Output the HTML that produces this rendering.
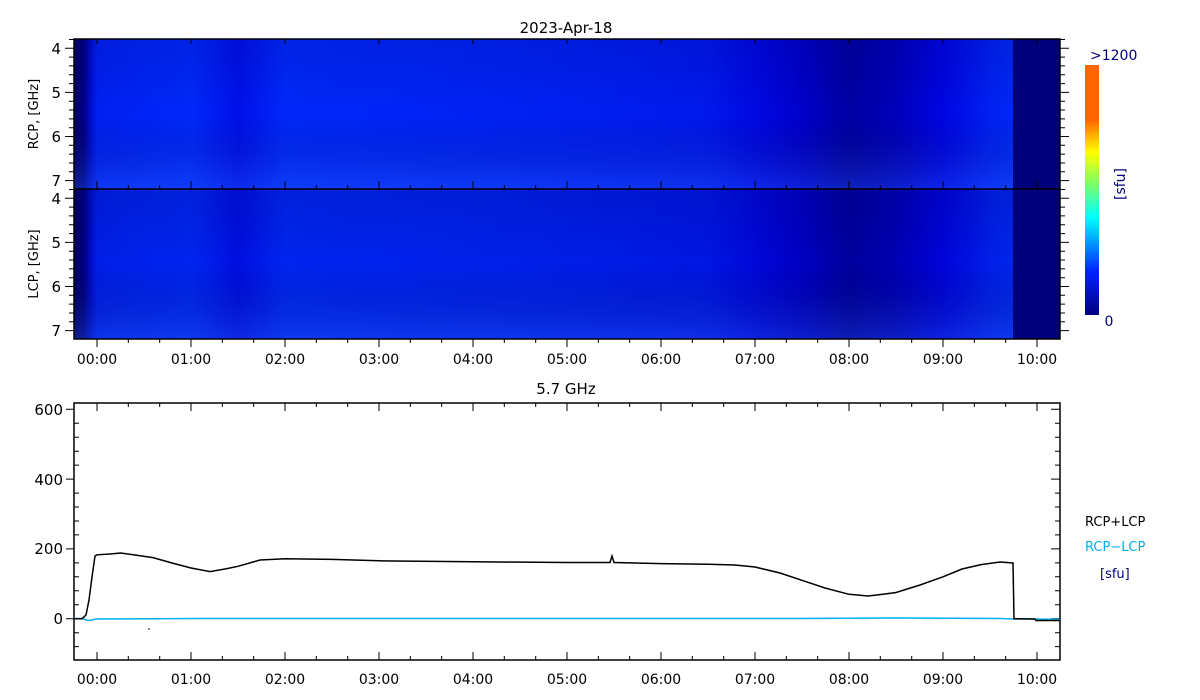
<!DOCTYPE html>
<html><head><meta charset="utf-8"><style>
html,body{margin:0;padding:0;background:#fff;}
svg{display:block;font-family:"DejaVu Sans","Liberation Sans",sans-serif;}
</style></head><body>
<svg width="1200" height="700" viewBox="0 0 1200 700" xmlns="http://www.w3.org/2000/svg">
<defs>
<linearGradient id="hx" gradientUnits="userSpaceOnUse" x1="74" y1="0" x2="1013" y2="0">
<stop offset="0" stop-color="#000060"/>
<stop offset="0.011" stop-color="#00008a"/>
<stop offset="0.019" stop-color="#0010d8"/>
<stop offset="0.025" stop-color="#0020f4"/>
<stop offset="0.125" stop-color="#0028fc"/>
<stop offset="0.175" stop-color="#0010ec"/>
<stop offset="0.225" stop-color="#0028fc"/>
<stop offset="0.5" stop-color="#0020f4"/>
<stop offset="0.675" stop-color="#0018ee"/>
<stop offset="0.725" stop-color="#0008e4"/>
<stop offset="0.775" stop-color="#0000cc"/>
<stop offset="0.825" stop-color="#0000a4"/>
<stop offset="0.875" stop-color="#0000bc"/>
<stop offset="0.925" stop-color="#0004e4"/>
<stop offset="0.975" stop-color="#0020f4"/>
<stop offset="1" stop-color="#0028f8"/>
</linearGradient>
<linearGradient id="vy" x1="0" y1="0" x2="0" y2="1">
<stop offset="0" stop-color="#000040" stop-opacity="0.12"/>
<stop offset="0.5" stop-color="#000000" stop-opacity="0"/>
<stop offset="1" stop-color="#3070ff" stop-opacity="0.3"/>
</linearGradient>
<linearGradient id="cb" x1="0" y1="1" x2="0" y2="0">
<stop offset="0" stop-color="#000080"/>
<stop offset="0.17" stop-color="#0020ff"/>
<stop offset="0.39" stop-color="#00ffff"/>
<stop offset="0.53" stop-color="#80ff60"/>
<stop offset="0.65" stop-color="#ffff00"/>
<stop offset="0.78" stop-color="#ff6600"/>
<stop offset="1" stop-color="#ff6600"/>
</linearGradient>
</defs>
<text x="566" y="33" font-size="15" text-anchor="middle" fill="#000">2023-Apr-18</text>
<rect x="74" y="39" width="939" height="150" fill="url(#hx)"/>
<rect x="74" y="39" width="939" height="150" fill="url(#vy)"/>
<rect x="74" y="189" width="939" height="150" fill="url(#hx)"/>
<rect x="74" y="189" width="939" height="150" fill="url(#vy)"/>
<rect x="74" y="189" width="939" height="150" fill="#000040" opacity="0.06"/>
<rect x="1013" y="39" width="47" height="300" fill="#00007a"/>
<rect x="74" y="39" width="986" height="300" fill="none" stroke="#000" stroke-width="1.5"/>
<line x1="74" y1="189" x2="1060" y2="189" stroke="#000" stroke-width="1.5"/>
<g stroke="#000" stroke-width="1" fill="none">
<!-- freq ticks left/right -->
<path d="M69 39.5h5M69 57.1h5M69 65.9h5M69 74.8h5M69 83.6h5M69 101.2h5M69 110h5M69 118.9h5M69 127.7h5M69 145.3h5M69 154.1h5M69 163h5M69 171.8h5
M69 189.5h5M69 207.1h5M69 215.9h5M69 224.8h5M69 233.6h5M69 251.2h5M69 260h5M69 268.9h5M69 277.7h5M69 295.3h5M69 304.1h5M69 313h5M69 321.8h5
M65 48.3h9M65 92.4h9M65 136.5h9M65 180.6h9M65 198.3h9M65 242.4h9M65 286.5h9M65 330.6h9"/>
<path d="M1060 39.5h5M1060 57.1h5M1060 65.9h5M1060 74.8h5M1060 83.6h5M1060 101.2h5M1060 110h5M1060 118.9h5M1060 127.7h5M1060 145.3h5M1060 154.1h5M1060 163h5M1060 171.8h5
M1060 189.5h5M1060 207.1h5M1060 215.9h5M1060 224.8h5M1060 233.6h5M1060 251.2h5M1060 260h5M1060 268.9h5M1060 277.7h5M1060 295.3h5M1060 304.1h5M1060 313h5M1060 321.8h5
M1060 48.3h9M1060 92.4h9M1060 136.5h9M1060 180.6h9M1060 198.3h9M1060 242.4h9M1060 286.5h9M1060 330.6h9"/>
<!-- time ticks spectrogram -->
<path d="M97 339v8M191 339v8M285 339v8M379 339v8M473 339v8M567 339v8M661 339v8M755 339v8M849 339v8M943 339v8M1037 339v8
M128.3 339v4M159.7 339v4M222.3 339v4M253.7 339v4M316.3 339v4M347.7 339v4M410.3 339v4M441.7 339v4M504.3 339v4M535.7 339v4M598.3 339v4M629.7 339v4M692.3 339v4M723.7 339v4M786.3 339v4M817.7 339v4M880.3 339v4M911.7 339v4M974.3 339v4M1005.7 339v4"/>
<path d="M97 189v-8M191 189v-8M285 189v-8M379 189v-8M473 189v-8M567 189v-8M661 189v-8M755 189v-8M849 189v-8M943 189v-8M1037 189v-8
M128.3 189v-4M159.7 189v-4M222.3 189v-4M253.7 189v-4M316.3 189v-4M347.7 189v-4M410.3 189v-4M441.7 189v-4M504.3 189v-4M535.7 189v-4M598.3 189v-4M629.7 189v-4M692.3 189v-4M723.7 189v-4M786.3 189v-4M817.7 189v-4M880.3 189v-4M911.7 189v-4M974.3 189v-4M1005.7 189v-4"/>
<path d="M97 39v5M191 39v5M285 39v5M379 39v5M473 39v5M567 39v5M661 39v5M755 39v5M849 39v5M943 39v5M1037 39v5"/>
<!-- time ticks lower plot -->
<path d="M97 660v-8M191 660v-8M285 660v-8M379 660v-8M473 660v-8M567 660v-8M661 660v-8M755 660v-8M849 660v-8M943 660v-8M1037 660v-8
M128.3 660v-4M159.7 660v-4M222.3 660v-4M253.7 660v-4M316.3 660v-4M347.7 660v-4M410.3 660v-4M441.7 660v-4M504.3 660v-4M535.7 660v-4M598.3 660v-4M629.7 660v-4M692.3 660v-4M723.7 660v-4M786.3 660v-4M817.7 660v-4M880.3 660v-4M911.7 660v-4M974.3 660v-4M1005.7 660v-4"/>
<path d="M97 403v8M191 403v8M285 403v8M379 403v8M473 403v8M567 403v8M661 403v8M755 403v8M849 403v8M943 403v8M1037 403v8
M128.3 403v4M159.7 403v4M222.3 403v4M253.7 403v4M316.3 403v4M347.7 403v4M410.3 403v4M441.7 403v4M504.3 403v4M535.7 403v4M598.3 403v4M629.7 403v4M692.3 403v4M723.7 403v4M786.3 403v4M817.7 403v4M880.3 403v4M911.7 403v4M974.3 403v4M1005.7 403v4"/>
<!-- value ticks lower -->
<path d="M74 646.6h5M74 632.7h5M74 604.7h5M74 590.8h5M74 576.8h5M74 562.9h5M74 534.9h5M74 521h5M74 507h5M74 493.1h5M74 465.1h5M74 451.2h5M74 437.2h5M74 423.3h5
M66 618.7h8M66 548.9h8M66 479.1h8M66 409.3h8"/>
<path d="M1060 646.6h-5M1060 632.7h-5M1060 604.7h-5M1060 590.8h-5M1060 576.8h-5M1060 562.9h-5M1060 534.9h-5M1060 521h-5M1060 507h-5M1060 493.1h-5M1060 465.1h-5M1060 451.2h-5M1060 437.2h-5M1060 423.3h-5
M1060 618.7h-9M1060 548.9h-9M1060 479.1h-9M1060 409.3h-9"/>
</g>
<text transform="translate(38,114) rotate(-90)" font-size="13" text-anchor="middle">RCP, [GHz]</text>
<text transform="translate(38,264) rotate(-90)" font-size="13" text-anchor="middle">LCP, [GHz]</text>
<g font-size="15" text-anchor="end">
<text x="61" y="54">4</text><text x="61" y="98">5</text><text x="61" y="142">6</text><text x="61" y="186">7</text>
<text x="61" y="204">4</text><text x="61" y="248">5</text><text x="61" y="292">6</text><text x="61" y="336">7</text>
</g>
<g font-size="14" text-anchor="middle">
<text x="97" y="364">00:00</text><text x="191" y="364">01:00</text><text x="285" y="364">02:00</text><text x="379" y="364">03:00</text><text x="473" y="364">04:00</text><text x="567" y="364">05:00</text><text x="661" y="364">06:00</text><text x="755" y="364">07:00</text><text x="849" y="364">08:00</text><text x="943" y="364">09:00</text><text x="1037" y="364">10:00</text>
<text x="97" y="684">00:00</text><text x="191" y="684">01:00</text><text x="285" y="684">02:00</text><text x="379" y="684">03:00</text><text x="473" y="684">04:00</text><text x="567" y="684">05:00</text><text x="661" y="684">06:00</text><text x="755" y="684">07:00</text><text x="849" y="684">08:00</text><text x="943" y="684">09:00</text><text x="1037" y="684">10:00</text>
</g>
<rect x="1085" y="65" width="14" height="250" fill="url(#cb)"/>
<text x="1090" y="60" font-size="14" fill="#000080">&gt;1200</text>
<text x="1109" y="326" font-size="14" fill="#000080" text-anchor="middle">0</text>
<text transform="translate(1125,184) rotate(-90)" font-size="14" fill="#000080" text-anchor="middle">[sfu]</text>
<text x="566" y="394" font-size="15" text-anchor="middle">5.7 GHz</text>
<rect x="74" y="403" width="986" height="257" fill="none" stroke="#000" stroke-width="1.5"/>
<polyline fill="none" stroke="#00b0f0" stroke-width="1.5" points="74,618.5 82,618.5 88,620.5 92,620 96,619 200,618.5 500,618.5 800,618.5 900,618 1000,618.5 1014,619 1035,619 1060,619.5"/>
<polyline fill="none" stroke="#000" stroke-width="1.5" points="74,618.7 82,618.7 86,615 89,600 92,577 95,556 97,554.8 110,554 120.5,553 135,555 153,557.6 172,563 191,568 210,571.6 225,569 238,566.3 260,560 285,558.7 332,559.4 379,560.8 473,561.8 567,562.5 610,562.5 612,556 614,562.5 661,563.6 708,564.3 735,565 755,567 780,573 802,580.3 825,588 849,594.3 868,596 885,594 896,592.5 920,585 943,576.8 962,569 981,564.6 1000,562 1013,563 1014,618.7 1035,619 1036,620.5 1060,620.5"/>
<circle cx="149" cy="629" r="0.8" fill="#000"/>
<g font-size="15" text-anchor="end">
<text x="63" y="415">600</text><text x="63" y="485">400</text><text x="63" y="554">200</text><text x="63" y="624">0</text>
</g>
<text x="1085" y="526" font-size="13" fill="#000">RCP+LCP</text>
<text x="1085" y="551" font-size="13" fill="#00b0f0">RCP−LCP</text>
<text x="1100" y="578" font-size="13" fill="#000080">[sfu]</text>
</svg>
</body></html>
